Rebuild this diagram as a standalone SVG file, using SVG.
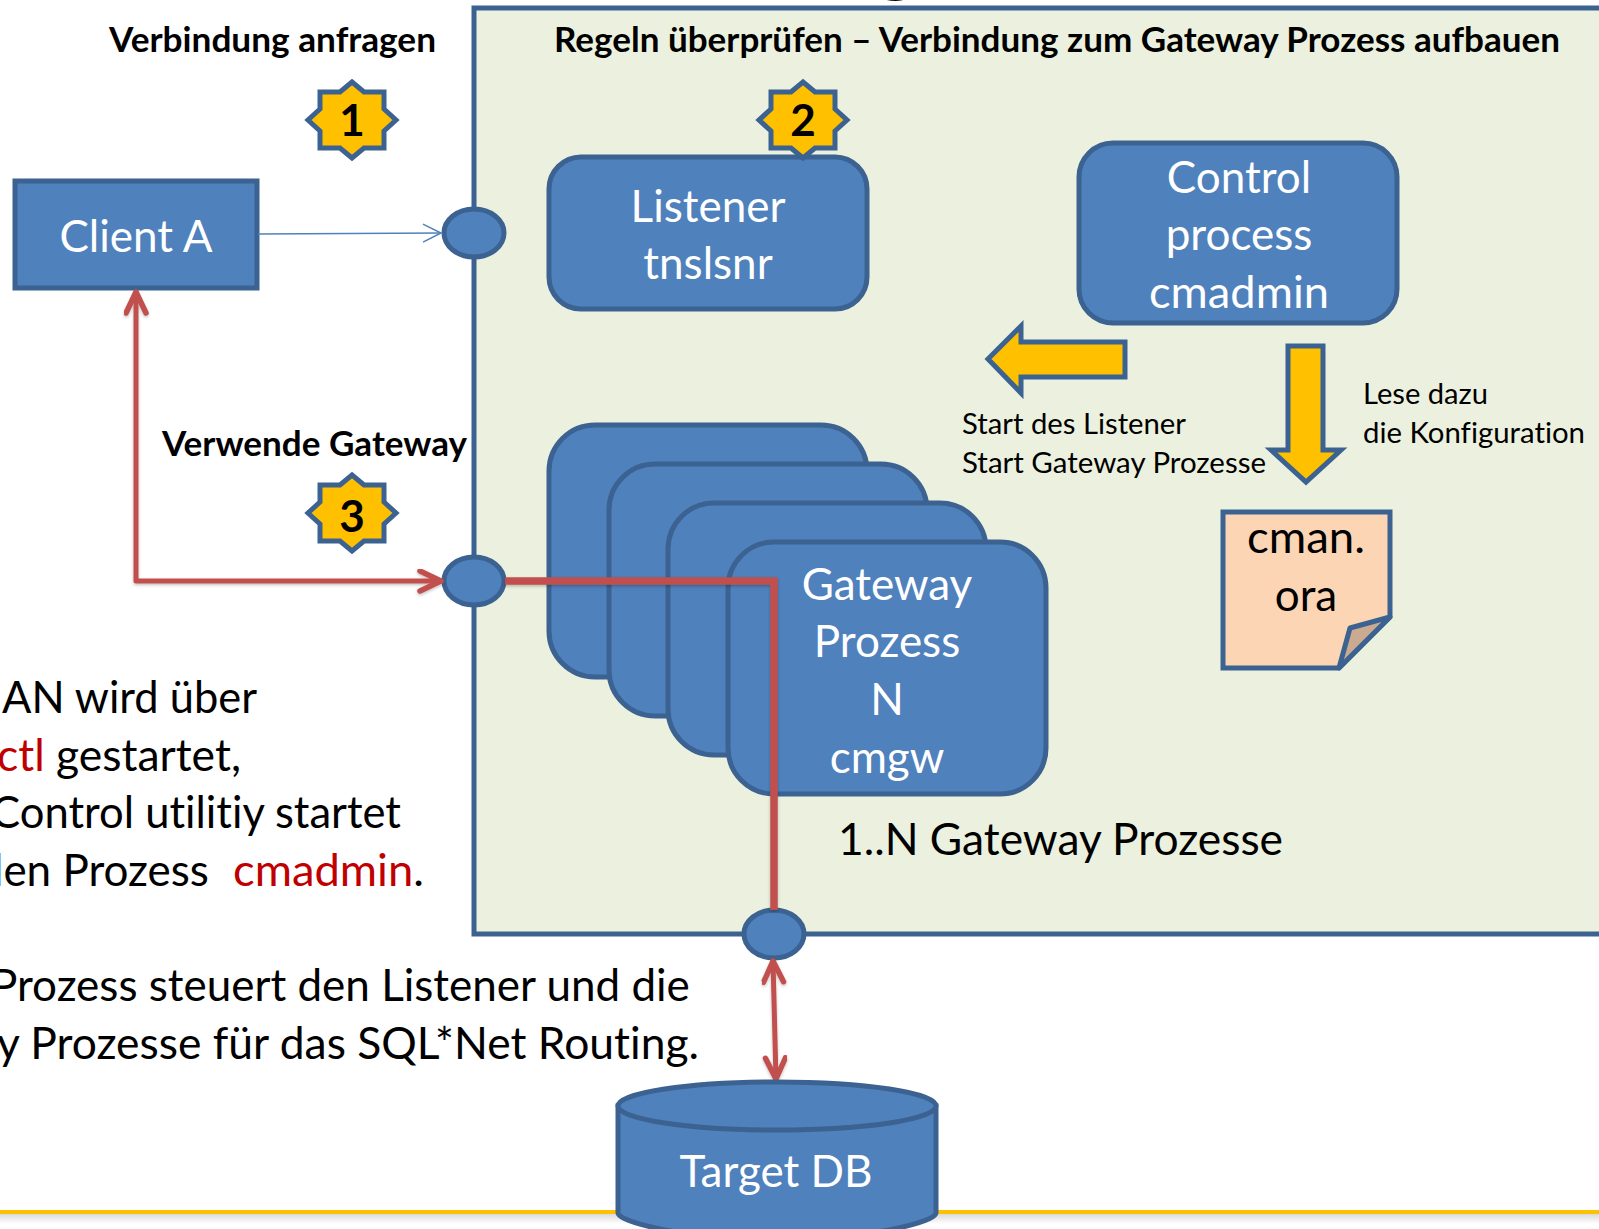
<svg xmlns="http://www.w3.org/2000/svg" width="1599" height="1229" viewBox="0 0 1599 1229">
<defs>
<style>
text{font-family:"Lato","Liberation Sans",sans-serif;font-variant-ligatures:none}
.blue{fill:#4F81BD;stroke:#3B6291;stroke-width:5}
.yel{fill:#FFC000;stroke:#3B6291;stroke-width:5}
.w{fill:#fff;font-size:44px;text-anchor:middle}
.b{fill:#000;font-size:44px}
.h{fill:#000;font-size:34px;font-weight:700}
.s{fill:#000;font-size:29.5px}
.n{fill:#000;font-size:44px;font-weight:700;text-anchor:middle}
.red{fill:#C00000}
.c{fill:none;stroke:#C0504D;stroke-linejoin:round;stroke-linecap:round;filter:url(#sh)}
</style>
<linearGradient id="fade" x1="0" y1="0" x2="0" y2="1"><stop offset="0" stop-color="#DADADA"/><stop offset="1" stop-color="#FFFFFF"/></linearGradient>
<filter id="sh" filterUnits="userSpaceOnUse" x="0" y="0" width="1599" height="1229"><feDropShadow dx="0" dy="1.5" stdDeviation="1.5" flood-color="#000" flood-opacity="0.25"/></filter>
<marker id="op" markerUnits="userSpaceOnUse" markerWidth="30" markerHeight="30" refX="24" refY="12" orient="auto-start-reverse" viewBox="0 0 30 30"><path d="M3 2L24 12L3 22" fill="none" stroke="#C0504D" stroke-width="5.5" stroke-linecap="round" stroke-linejoin="round"/></marker>
<marker id="th" markerUnits="userSpaceOnUse" markerWidth="24" markerHeight="24" refX="20" refY="10" orient="auto" viewBox="0 0 24 24"><path d="M2 1L20 10L2 19" fill="none" stroke="#4F81BD" stroke-width="1.5"/></marker>
<path id="star" d="M0 -38L12 -28L32 -28L32 -11L44 0L32 11L32 28L12 28L0 38L-12 28L-32 28L-32 11L-44 0L-32 -11L-32 -28L-12 -28Z"/>
</defs>
<rect width="1599" height="1229" fill="#fff"/>
<g id="footer"><rect x="0" y="1214" width="1599" height="10" fill="url(#fade)"/><rect x="0" y="1210" width="1599" height="4" fill="#FFC000"/></g>
<g id="panel"><path d="M1599 8H474V934H1599" fill="#EBF1DE" stroke="#3B6291" stroke-width="5"/></g>
<text x="873" y="-16" font-size="90" font-weight="700" fill="#000">g</text>
<g id="client"><rect class="blue" x="15" y="181" width="242" height="107"/><text class="w" x="136" y="252">Client A</text></g>
<g id="listener"><rect class="blue" x="549" y="157" width="318" height="152" rx="32"/><text class="w" x="708" y="222">Listener</text><text class="w" x="708" y="279">tnslsnr</text></g>
<g id="control"><rect class="blue" x="1079" y="143" width="318" height="180" rx="34"/><text class="w" x="1239" y="193">Control</text><text class="w" x="1239" y="250">process</text><text class="w" x="1239" y="308" textLength="180" lengthAdjust="spacingAndGlyphs">cmadmin</text></g>
<g id="gateway1"><rect class="blue" x="549" y="425" width="318" height="252" rx="46"/></g>
<g id="gateway2"><rect class="blue" x="609" y="464" width="318" height="252" rx="46"/></g>
<g id="gateway3"><rect class="blue" x="668" y="503" width="318" height="252" rx="46"/></g>
<g id="gateway4"><rect class="blue" x="728" y="542" width="318" height="252" rx="46"/><text class="w" x="887" y="600">Gateway</text><text class="w" x="887" y="657">Prozess</text><text class="w" x="887" y="715">N</text><text class="w" x="887" y="773">cmgw</text></g>
<g id="port1"><ellipse class="blue" cx="474" cy="233" rx="30" ry="24"/></g>
<g id="port2"><ellipse class="blue" cx="474" cy="581" rx="30" ry="24"/></g>
<g id="port3"><ellipse class="blue" cx="774" cy="934" rx="30" ry="24"/></g>
<g id="connectors">
<path d="M258 234L441 233" fill="none" stroke="#4F81BD" stroke-width="1.5" marker-end="url(#th)"/>
<path class="c" stroke-width="5" d="M136 292V581H441" marker-start="url(#op)" marker-end="url(#op)"/>
<path d="M505 581H774V910" fill="none" stroke="#C0504D" stroke-width="7.5" style="filter:url(#sh)"/>
<path class="c" stroke-width="5" d="M773 961L776 1079" marker-start="url(#op)" marker-end="url(#op)"/>
</g>
<g id="star1"><use href="#star" class="yel" x="352" y="120"/><text class="n" x="352" y="136">1</text></g>
<g id="star2"><use href="#star" class="yel" x="803" y="120"/><text class="n" x="803" y="136">2</text></g>
<g id="star3"><use href="#star" class="yel" x="352" y="513"/><text class="n" x="352" y="532">3</text></g>
<g id="arrow-left"><path class="yel" d="M988 359L1021 326V342H1125V377H1021V393Z"/></g>
<g id="arrow-down"><path class="yel" d="M1288 346H1323V450H1341L1306 482L1271 450H1288Z"/></g>
<g id="doc"><path d="M1223 512H1390V617L1339 668H1223Z" fill="#FCD5B5" stroke="#3B6291" stroke-width="5"/><path d="M1390 617L1350 628L1339 668Z" fill="#CAAA91" stroke="#3B6291" stroke-width="5" stroke-linejoin="round"/><text class="b" x="1306" y="553" text-anchor="middle" textLength="118" lengthAdjust="spacingAndGlyphs">cman.</text><text class="b" x="1306" y="611" text-anchor="middle">ora</text></g>
<g id="db"><path class="blue" d="M618 1106V1213C618 1222 690 1240 777 1240S936 1222 936 1213V1106Z"/><ellipse class="blue" cx="777" cy="1106" rx="159" ry="24"/><text class="w" x="776" y="1187">Target DB</text></g>
<g id="labels">
<text class="h" x="109" y="52" textLength="327" lengthAdjust="spacingAndGlyphs">Verbindung anfragen</text>
<text class="h" x="554" y="52" textLength="1006" lengthAdjust="spacingAndGlyphs">Regeln überprüfen – Verbindung zum Gateway Prozess aufbauen</text>
<text class="h" x="162" y="456" textLength="305" lengthAdjust="spacingAndGlyphs">Verwende Gateway</text>
<text class="s" x="962" y="434" textLength="224" lengthAdjust="spacingAndGlyphs">Start des Listener</text>
<text class="s" x="962" y="473" textLength="304" lengthAdjust="spacingAndGlyphs">Start Gateway Prozesse</text>
<text class="s" x="1363" y="404" textLength="125" lengthAdjust="spacingAndGlyphs">Lese dazu</text>
<text class="s" x="1363" y="443" textLength="222" lengthAdjust="spacingAndGlyphs">die Konfiguration</text>
<text class="b" x="838" y="855" textLength="445" lengthAdjust="spacingAndGlyphs">1..N Gateway Prozesse</text>
<text class="b" x="2" y="713" textLength="255" lengthAdjust="spacingAndGlyphs">AN wird über</text>
<text class="b" x="-3" y="771" textLength="244" lengthAdjust="spacingAndGlyphs"><tspan class="red">ctl</tspan> gestartet,</text>
<text class="b" x="-9" y="828" textLength="410" lengthAdjust="spacingAndGlyphs">Control utilitiy startet</text>
<text class="b" x="-7" y="886">len Prozess</text>
<text class="b" x="233" y="886" textLength="191" lengthAdjust="spacingAndGlyphs"><tspan class="red">cmadmin</tspan>.</text>
<text class="b" x="-9" y="1001">Prozess steuert den Listener und die</text>
<text class="b" x="-3" y="1059" textLength="702" lengthAdjust="spacingAndGlyphs">y Prozesse für das SQL*Net Routing.</text>
</g>
</svg>
